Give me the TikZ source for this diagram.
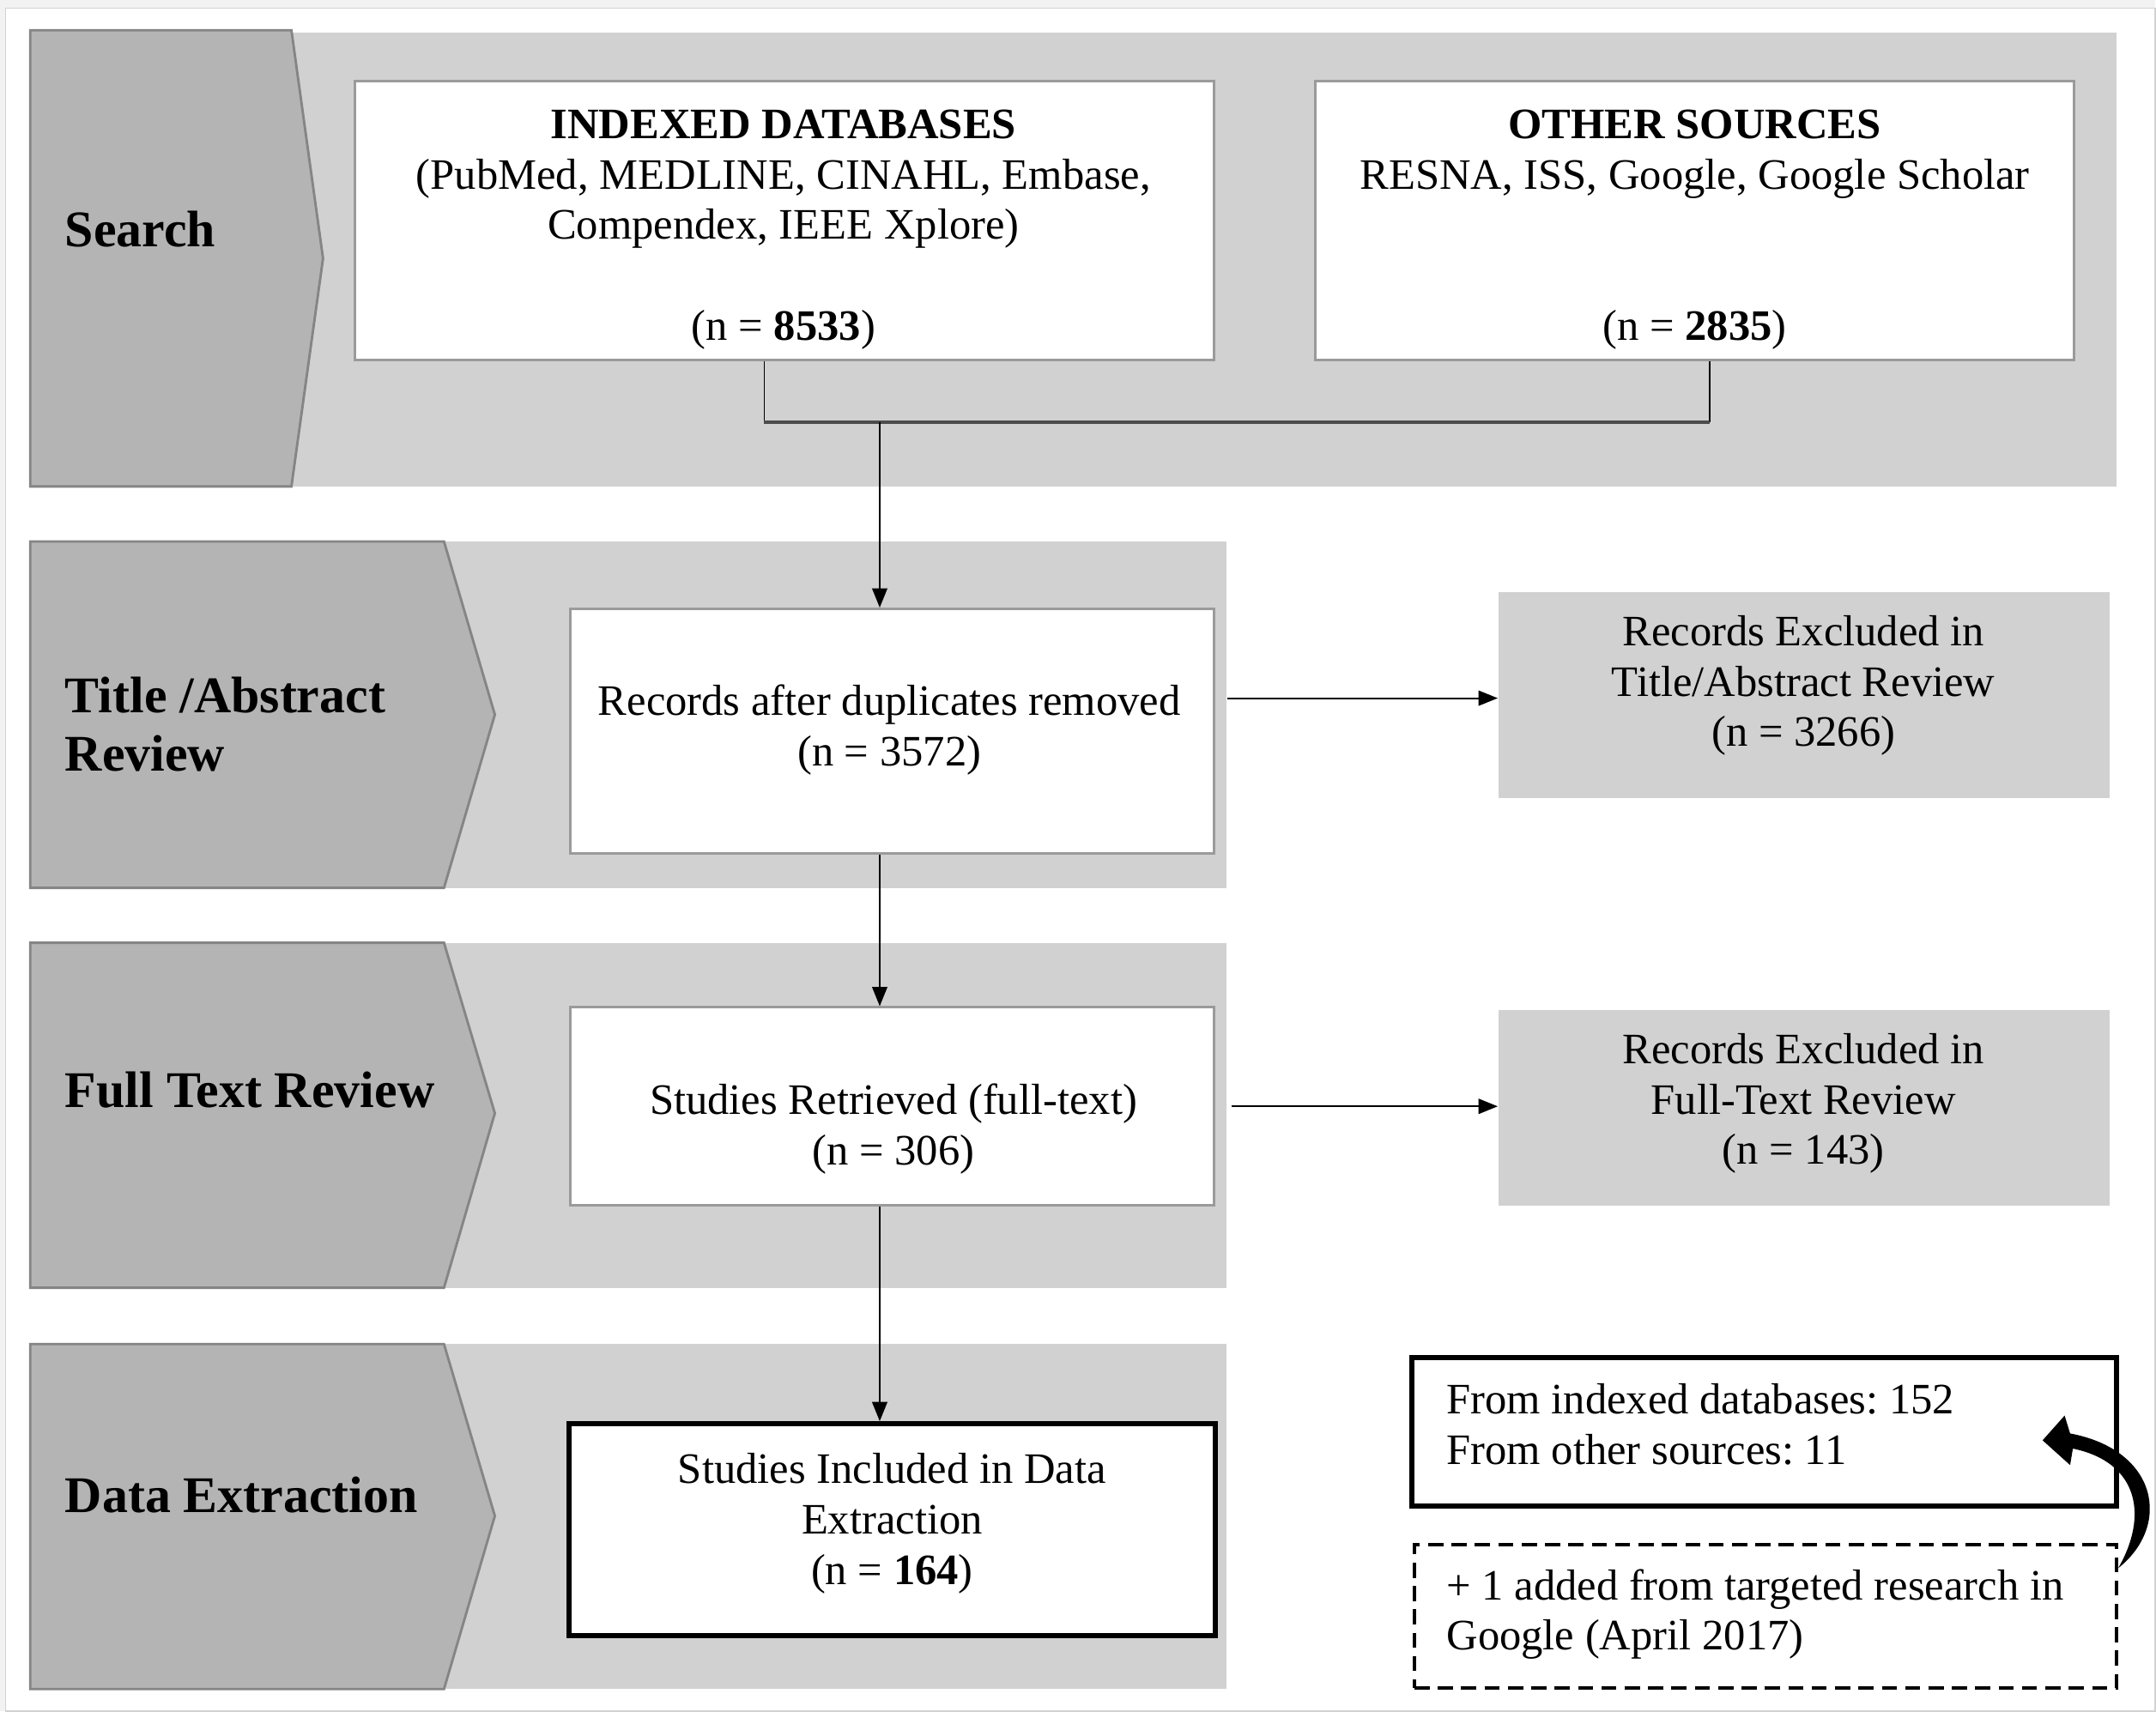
\documentclass[tikz,border=0pt]{standalone}
\usepackage{fontspec}
\setmainfont{Liberation Serif}
\usetikzlibrary{arrows.meta}
\definecolor{bandc}{HTML}{D1D1D1}
\definecolor{chevc}{HTML}{B4B4B4}
\definecolor{chevline}{HTML}{858585}
\definecolor{boxline}{HTML}{9A9A9A}
\definecolor{framec}{HTML}{F2F2F2}
\begin{document}
\frenchspacing
\begin{tikzpicture}[x=0.5pt,y=-0.5pt,
  chevron/.style={fill=chevc, draw=chevline, line width=0.9pt, line join=miter},
  phase/.style={anchor=west, align=left, inner sep=0pt,
    font=\fontsize{18.7}{21.5}\selectfont\bfseries},
  txt/.style={align=center, inner sep=0pt, font=\fontsize{15.8}{18.3}\selectfont},
  ltxt/.style={anchor=west, align=left, inner sep=0pt, font=\fontsize{15.8}{18.3}\selectfont},
  wbox/.style={draw=boxline, fill=white, line width=0.9pt, inner sep=0pt},
  gbox/.style={fill=bandc, draw=none, inner sep=0pt},
  tbox/.style={draw=black, fill=white, line width=1.9pt, inner sep=0pt},
  dbox/.style={draw=black, fill=white, line width=1.3pt, dash pattern=on 5.5pt off 3pt, inner sep=0pt},
  arr/.style={draw=black, line width=0.6pt, -{Triangle[length=7pt,width=5.5pt]}},
  conn/.style={draw=black, line width=0.6pt}
]
% frame / background
\fill[framec] (0,0) rectangle (1568,1245);
\fill[white, draw=gray!35, line width=0.5pt] (4,6) rectangle (1568,1245);
\useasboundingbox (0,0) rectangle (1568,1245);

% bands
\fill[bandc] (212,24) rectangle (1540,354);
\fill[bandc] (323,394) rectangle (892,646);
\fill[bandc] (323,686) rectangle (892,937);
\fill[bandc] (323,978) rectangle (892,1229);

% chevrons
\draw[chevron] (22,22) -- (212,22) -- (235,188) -- (212,354) -- (22,354) -- cycle;
\draw[chevron] (22,394) -- (323,394) -- (360,520) -- (323,646) -- (22,646) -- cycle;
\draw[chevron] (22,686) -- (323,686) -- (360,810) -- (323,937) -- (22,937) -- cycle;
\draw[chevron] (22,978) -- (323,978) -- (360,1103) -- (323,1229) -- (22,1229) -- cycle;

% phase labels
\node[phase] (pS) at (47,167) {Search};
\node[phase] (pT) at (47,527) {Title /Abstract\\Review};
\node[phase] (pF) at (47,793) {Full Text Review};
\node[phase] (pD) at (47,1088) {Data Extraction};

% boxes
\node[wbox, minimum width=312.5pt, minimum height=101.5pt] (idx) at (570.5,160.5) {};
\node[wbox, minimum width=276pt, minimum height=101.5pt] (oth) at (1233,160.5) {};
\node[wbox, minimum width=234pt, minimum height=89pt] (rec) at (649,532) {};
\node[gbox, minimum width=222.5pt, minimum height=75pt] (ex1) at (1312.5,506) {};
\node[wbox, minimum width=234pt, minimum height=72pt] (stu) at (649,805) {};
\node[gbox, minimum width=222.5pt, minimum height=71pt] (ex2) at (1312.5,806) {};
\node[tbox, minimum width=235pt, minimum height=77pt] (fin) at (649,1113) {};
\node[tbox, minimum width=256.5pt, minimum height=54pt] (nt1) at (1283.5,1042) {};
\node[dbox, minimum width=255.5pt, minimum height=52pt] (nt2) at (1284.5,1176) {};

% box texts
\node[txt] (idxT) at (570,167)
  {\textbf{INDEXED DATABASES}\\(PubMed, MEDLINE, CINAHL, Embase,\\Compendex, IEEE Xplore)\\[18.3pt](n = \textbf{8533})};
\node[txt] (othT) at (1233,167)
  {\textbf{OTHER SOURCES}\\RESNA, ISS, Google, Google Scholar\\[36.6pt](n = \textbf{2835})};
\node[txt] (recT) at (647,531) {Records after duplicates removed\\(n = 3572)};
\node[txt] (ex1T) at (1312,499) {Records Excluded in\\Title/Abstract Review\\(n = 3266)};
\node[txt] (stuT) at (650,821.5) {Studies Retrieved (full-text)\\(n = 306)};
\node[txt] (ex2T) at (1312,803) {Records Excluded in\\Full-Text Review\\(n = 143)};
\node[txt] (finT) at (649,1108.5) {Studies Included in Data\\Extraction\\(n = \textbf{164})};
\node[ltxt] (nt1T) at (1052,1036.5) {From indexed databases: 152\\From other sources: 11};
\node[ltxt] (nt2T) at (1052,1174.5) {+ 1 added from targeted research in\\Google (April 2017)};

% connectors
\coordinate (jl) at (556,307);
\coordinate (jr) at (1244,307);
\coordinate (j) at (640,307);
\draw[conn] (idx.south -| jl) -- (jl);
\draw[conn] (oth.south -| jr) -- (jr);
\draw[draw=black!70, line width=1.2pt] (jl) -- (jr);
\draw[arr] (j) -- (rec.north -| j);
\draw[arr] (rec.south -| j) -- (stu.north -| j);
\draw[arr] (stu.south -| j) -- (fin.north -| j);
\draw[arr, shorten <=4.5pt] (rec.east |- 0,508) -- (ex1.west |- 0,508);
\draw[arr, shorten <=6pt] (stu.east |- 0,805) -- (ex2.west |- 0,805);

% curved tapered arrow from the dashed note to the solid note
\coordinate (cs) at (1541,1141);
\coordinate (ce) at (1486,1048);
\fill[black] (cs) .. controls (1580,1110) and (1570,1055) .. (1506,1043)
  -- (1502,1030) -- (ce) -- (1506,1066) -- (1508,1054)
  .. controls (1556,1064) and (1563,1103) .. (cs) -- cycle;
\end{tikzpicture}
\end{document}
